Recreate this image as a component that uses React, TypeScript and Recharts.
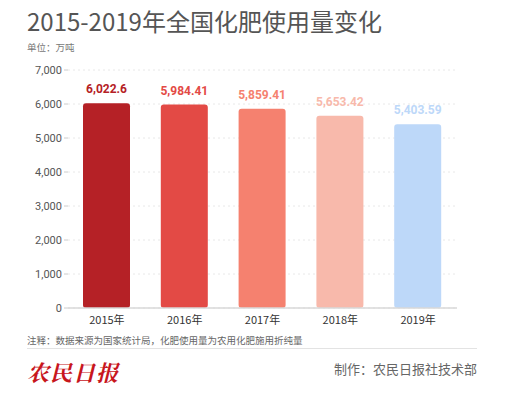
import { BarChart, Bar, XAxis, YAxis, CartesianGrid, Cell, LabelList } from 'recharts'

const years = ['2015年', '2016年', '2017年', '2018年', '2019年']
const usage = [6022.6, 5984.41, 5859.41, 5653.42, 5403.59]
const usageLabels = ['6,022.6', '5,984.41', '5,859.41', '5,653.42', '5,403.59']
const barColors = ['#b52126', '#e34a45', '#f5816f', '#f8b9ab', '#bdd8f9']
const yTicks = [0, 1000, 2000, 3000, 4000, 5000, 6000, 7000]

const data = years.map((y, i) => ({ year: y, value: usage[i], label: usageLabels[i] }))

const font = '"Noto Sans CJK SC", "Noto Sans", sans-serif'

const fmt = (v: number) => v.toLocaleString('en-US')

// value label coloured like its bar
const ValueLabel = (props: any) => {
  const { x, y, width, index } = props
  return (
    <text
      x={x + width / 2}
      y={y - 10}
      textAnchor="middle"
      fill={barColors[index]}
      fontSize={12}
      fontWeight={700}
      fontFamily='Roboto, "Noto Sans", sans-serif'
    >
      {usageLabels[index]}
    </text>
  )
}

export default function App() {
  return (
    <div style={{ position: 'absolute', left: 0, top: 0, width: 514, height: 397, background: '#fff', fontFamily: font }}>
      <div style={{ position: 'absolute', left: 27, top: 3, fontSize: 24, color: '#555', letterSpacing: 0 }}>
        2015-2019年全国化肥使用量变化
      </div>
      <div style={{ position: 'absolute', left: 27, top: 40, fontSize: 9.5, color: '#777' }}>
        单位：万吨
      </div>

      <BarChart
        width={514}
        height={397}
        data={data}
        margin={{ top: 70, right: 57, left: 8, bottom: 59 }}
        style={{ position: 'absolute', left: 0, top: 0 }}
      >
        <CartesianGrid vertical={false} stroke="#e8e8e8" strokeDasharray="2 3" />
        <XAxis
          dataKey="year"
          tickLine={false}
          axisLine={{ stroke: '#d9d9d9', strokeWidth: 1.5 }}
          tick={{ fill: '#333', fontSize: 11, fontFamily: font }}
          tickMargin={2}
          height={30}
        />
        <YAxis
          ticks={yTicks}
          domain={[0, 7000]}
          tickFormatter={fmt}
          width={60}
          axisLine={false}
          tickLine={{ stroke: '#ccc' }}
          tickSize={4}
          tick={{ fill: '#555', fontSize: 11, fontFamily: 'Roboto, "Noto Sans", sans-serif' }}
        />
        <Bar dataKey="value" barSize={47} radius={[3, 3, 3, 3]} isAnimationActive={false}>
          {data.map((d, i) => (
            <Cell key={d.year} fill={barColors[i]} />
          ))}
          <LabelList dataKey="label" content={<ValueLabel />} />
        </Bar>
      </BarChart>

      <div style={{ position: 'absolute', left: 27, top: 333, fontSize: 9.5, color: '#666' }}>
        注释：数据来源为国家统计局，化肥使用量为农用化肥施用折纯量
      </div>
      <div style={{ position: 'absolute', left: 27, top: 348, width: 450, height: 1, background: '#e3e3e3' }} />
      <div
        style={{
          position: 'absolute', left: 27, top: 356, fontSize: 22, color: '#c8161d',
          fontWeight: 700, fontStyle: 'italic', letterSpacing: 1, fontFamily: '"Noto Serif CJK SC", "Noto Sans CJK SC", serif',
        }}
      >
        农民日报
      </div>
      <div style={{ position: 'absolute', right: 37, top: 359, fontSize: 13, color: '#666' }}>
        制作：农民日报社技术部
      </div>
    </div>
  )
}
